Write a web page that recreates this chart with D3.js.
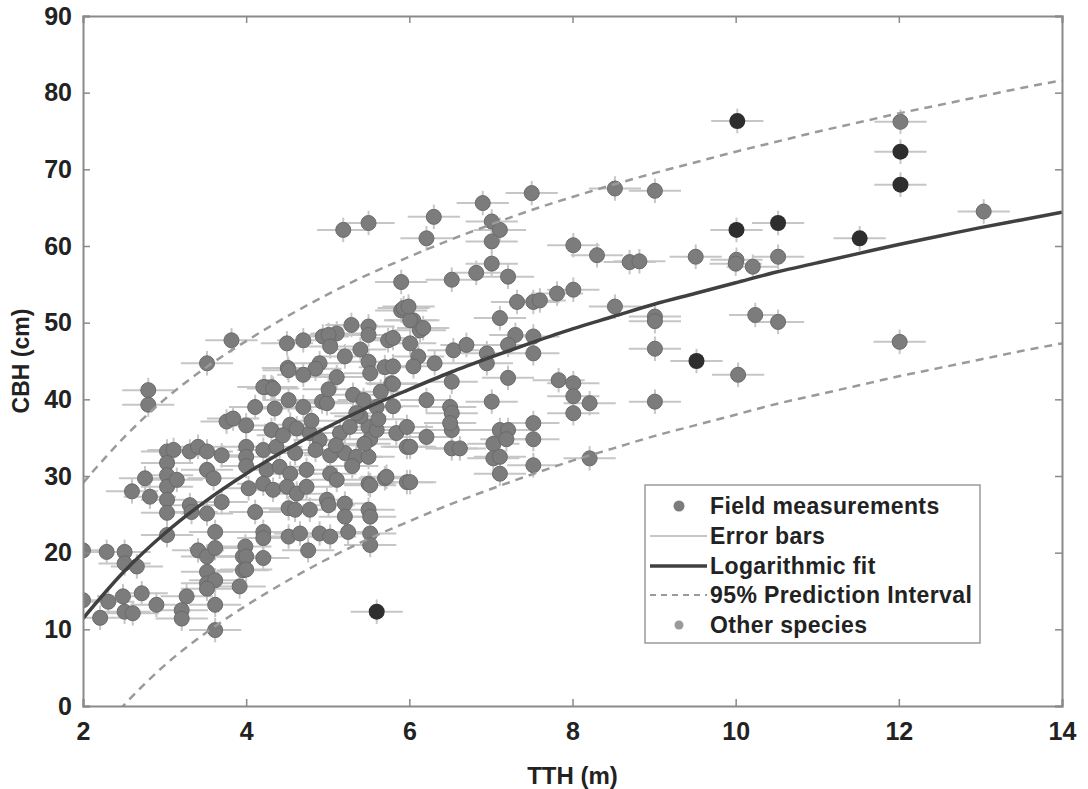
<!DOCTYPE html>
<html>
<head>
<meta charset="utf-8">
<script src="https://cdn.jsdelivr.net/npm/d3@7"></script>
<style>
  body { margin: 0; background: #fff; }
  svg { display: block; }
  .tick text { font-family: "Liberation Sans", Arial, sans-serif; font-weight: bold; fill: #222; }
  .axis-label { font-family: "Liberation Sans", Arial, sans-serif; font-weight: bold; fill: #222; }
  .legend text { font-family: "Liberation Sans", Arial, sans-serif; font-weight: bold; fill: #222; font-size: 23px; letter-spacing: 0.4px; }
</style>
</head>
<body>
<script>
var w = 1088;
var h = 789;
var margin = {left: 83, top: 16, right: 26, bottom: 83};

// field measurements (TTH m, CBH cm)
var fieldTTH = [
  2.0, 2.29, 2.51, 2.51, 2.66, 2.0, 2.21, 2.31, 2.49, 2.51, 2.61, 2.72, 2.9, 2.6, 2.76, 2.82, 2.8, 2.8,
  3.03, 3.11, 3.03, 3.03, 3.03, 3.03, 3.03, 3.15, 3.31, 3.41, 3.52, 3.7, 3.52, 3.6, 3.31, 3.33, 3.52, 3.7,
  3.03, 3.41, 3.52, 3.62, 3.62, 3.52, 3.52, 3.62, 3.52, 3.27, 3.21, 3.21, 3.62, 3.62, 3.96, 3.96, 3.92, 3.99,
  3.52, 3.82, 3.76,
  4.0, 4.11, 4.23, 4.31, 4.5, 4.51, 4.7, 4.94, 5.11, 5.29, 5.5, 5.5, 5.74, 5.9, 5.9, 6.05, 6.13, 5.01, 5.03,
  5.21, 4.9, 4.85, 4.52, 4.7, 5.5, 5.52, 5.7, 5.78, 5.11, 4.52, 4.7, 4.93, 4.99, 5.31, 5.44, 5.6, 3.84, 4.31,
  4.54, 4.62, 4.78, 4.9, 5.15, 5.27, 5.5, 5.52, 5.6, 5.84, 5.97, 5.97, 4.0, 4.0, 4.0, 4.21, 4.37, 4.6, 4.85,
  5.03, 5.21, 5.35, 5.5, 4.25, 4.41, 4.54, 4.74, 5.03, 5.11, 5.5, 5.7, 5.97, 4.03, 4.21, 4.33, 4.5, 4.62,
  4.74, 4.99, 4.11, 4.52, 4.6, 4.78, 5.01, 5.21, 5.5, 4.21, 4.21, 4.0, 4.21, 4.0, 4.52, 4.66, 4.76, 4.9, 5.03,
  5.21, 5.25, 5.52, 5.52, 5.52, 5.52, 5.8, 5.93, 6.01, 6.17, 6.01, 5.8, 5.8, 5.8, 6.11, 6.31, 6.05, 6.21,
  6.5, 5.72, 6.01, 6.01, 6.21,
  4.21, 4.33, 5.01, 5.4, 5.35, 5.62, 5.45, 4.45, 4.8, 5.1, 5.65, 5.4, 4.35, 5.3,
  5.19, 5.5, 6.3, 6.21, 6.9, 7.01, 7.11, 7.01, 7.5, 7.01, 7.21, 6.82, 6.52, 5.99, 7.32, 7.52, 7.6, 7.81,
  8.01, 8.01, 8.3, 7.11, 7.3, 7.52, 7.52, 7.21, 7.83, 8.01, 8.01, 8.21, 8.01, 7.01, 6.52, 6.52, 6.52, 6.52,
  6.62, 7.11, 7.21, 7.03, 7.19, 7.52, 7.52, 7.03, 7.11, 7.52, 7.11, 8.21, 6.54, 6.7, 6.95, 6.95, 7.21, 6.5,
  8.52, 9.01, 8.7, 8.82, 9.51, 10.01, 10.21, 10.52, 13.04, 8.52, 9.01, 9.01, 9.01, 10.03, 10.24, 10.52,
  12.01, 9.01, 12.02, 10.0
];
var fieldCBH = [
  20.3, 20.1, 20.1, 18.6, 18.2, 13.8, 11.5, 13.6, 14.3, 12.3, 12.1, 14.7, 13.2, 28.0, 29.7, 27.3, 41.2, 39.3,
  33.2, 33.4, 31.7, 30.1, 28.6, 26.9, 25.2, 29.5, 33.2, 33.8, 33.2, 32.7, 30.8, 29.7, 26.2, 25.3, 25.1, 26.6,
  22.3, 20.3, 19.5, 20.6, 22.7, 17.5, 16.0, 16.4, 15.3, 14.3, 12.5, 11.4, 13.2, 9.9, 19.5, 17.7, 15.6, 20.8,
  44.7, 47.7, 37.1,
  36.6, 39.0, 41.6, 41.6, 47.3, 44.1, 47.7, 48.2, 48.6, 49.7, 49.5, 48.4, 47.7, 55.3, 51.6, 50.3, 49.0, 48.4, 46.9,
  45.6, 44.7, 44.0, 43.8, 43.2, 44.9, 43.4, 44.2, 42.1, 42.9, 39.9, 39.0, 39.7, 39.5, 40.6, 39.9, 39.0, 37.5, 36.0,
  36.7, 36.2, 35.6, 34.7, 35.6, 36.4, 36.4, 34.8, 36.0, 35.6, 36.4, 33.8, 33.8, 32.5, 31.3, 33.4, 33.8, 33.0, 33.4,
  32.7, 33.0, 32.5, 32.5, 30.8, 31.2, 30.3, 30.8, 30.3, 29.5, 29.0, 29.7, 29.2, 28.4, 29.0, 28.2, 28.6, 27.7,
  28.6, 26.9, 25.3, 25.8, 25.6, 25.6, 26.2, 26.4, 25.6, 22.7, 21.9, 19.5, 19.3, 17.8, 22.1, 22.5, 20.3, 22.5, 22.1,
  24.7, 22.7, 24.7, 22.5, 21.0, 28.8, 48.0, 51.9, 50.3, 49.3, 47.3, 44.3, 42.0, 39.1, 45.6, 44.7, 44.3, 39.9,
  39.0, 29.9, 29.2, 33.8, 35.1,
  41.6, 41.4, 41.3, 37.8, 38.2, 37.4, 34.2, 35.3, 37.2, 34.0, 41.0, 46.5, 38.8, 31.3,
  62.1, 63.0, 63.8, 61.0, 65.6, 63.2, 62.1, 60.6, 66.9, 57.7, 56.0, 56.5, 55.6, 52.1, 52.7, 52.7, 52.9, 53.8,
  54.3, 60.1, 58.8, 50.6, 48.4, 48.2, 46.0, 42.8, 42.5, 42.1, 40.4, 39.5, 38.2, 39.7, 42.3, 38.2, 36.0, 33.6,
  33.6, 36.0, 36.0, 34.2, 34.8, 36.9, 34.8, 32.3, 32.5, 31.4, 30.3, 32.3, 46.4, 47.1, 46.0, 44.7, 47.1, 36.9,
  67.5, 67.2, 57.9, 58.0, 58.6, 58.2, 57.3, 58.6, 64.5, 52.1, 50.8, 50.2, 46.6, 43.2, 51.0, 50.1,
  47.5, 39.7, 76.2, 57.7
];

// other species
var otherTTH = [5.6, 9.52, 10.02, 10.01, 10.52, 11.52, 12.02, 12.02];
var otherCBH = [12.3, 45.0, 76.3, 62.1, 63.0, 61.0, 72.3, 68.0];

// error bar half widths
var tthErr = 0.32;
var cbhErr = 1.6;

// logarithmic fit and 95% prediction interval, read at TTH = 2, 2.5, ... 14
var curveTTH = [2, 2.5, 3, 3.5, 4, 4.5, 5, 5.5, 6, 6.5, 7, 7.5, 8, 8.5, 9, 9.5, 10, 10.5, 11, 11.5, 12, 12.5, 13, 13.5, 14];
var fitCBH = [11.4, 17.5, 22.5, 26.7, 30.3, 33.5, 36.4, 39.0, 41.3, 43.5, 45.5, 47.4, 49.2, 50.8, 52.4, 53.8, 55.2, 56.6, 57.8, 59.0, 60.2, 61.3, 62.4, 63.4, 64.4];
var upperCBH = [29.1, 35.0, 40.0, 44.1, 47.6, 50.8, 53.7, 56.3, 58.6, 60.8, 62.8, 64.7, 66.4, 68.0, 69.5, 70.9, 72.3, 73.6, 74.9, 76.1, 77.3, 78.4, 79.5, 80.6, 81.6];
var lowerCBH = [-6.0, 0.1, 5.3, 9.5, 13.1, 16.3, 19.2, 21.8, 24.1, 26.3, 28.3, 30.2, 32.0, 33.6, 35.2, 36.6, 38.0, 39.4, 40.6, 41.8, 43.0, 44.1, 45.2, 46.3, 47.3];

var xTicks = [2, 4, 6, 8, 10, 12, 14];
var yTicks = [0, 10, 20, 30, 40, 50, 60, 70, 80, 90];

var xScale = d3.scaleLinear()
  .domain([2, 14])
  .range([margin.left, w - margin.right]);

var yScale = d3.scaleLinear()
  .domain([0, 90])
  .range([h - margin.bottom, margin.top]);

var svg = d3.select("body")
  .append("svg")
  .attr("width", w)
  .attr("height", h);

svg.append("clipPath")
  .attr("id", "plot-clip")
  .append("rect")
  .attr("x", margin.left)
  .attr("y", margin.top)
  .attr("width", w - margin.left - margin.right)
  .attr("height", h - margin.top - margin.bottom);

var field = fieldTTH.map(function(d, i) { return [d, fieldCBH[i]]; });
var other = otherTTH.map(function(d, i) { return [d, otherCBH[i]]; });
var all = field.concat(other);

var plot = svg.append("g").attr("clip-path", "url(#plot-clip)");

// error bars
var errs = plot.append("g")
  .attr("stroke", "#c6c6c6")
  .attr("stroke-width", 2);

errs.selectAll("line.h")
  .data(all)
  .enter()
  .append("line")
  .attr("class", "h")
  .attr("x1", function(d) { return xScale(d[0] - tthErr); })
  .attr("x2", function(d) { return xScale(d[0] + tthErr); })
  .attr("y1", function(d) { return yScale(d[1]); })
  .attr("y2", function(d) { return yScale(d[1]); });

errs.selectAll("line.v")
  .data(all)
  .enter()
  .append("line")
  .attr("class", "v")
  .attr("x1", function(d) { return xScale(d[0]); })
  .attr("x2", function(d) { return xScale(d[0]); })
  .attr("y1", function(d) { return yScale(d[1] - cbhErr); })
  .attr("y2", function(d) { return yScale(d[1] + cbhErr); });

// points
plot.selectAll("circle.field")
  .data(field)
  .enter()
  .append("circle")
  .attr("class", "field")
  .attr("cx", function(d) { return xScale(d[0]); })
  .attr("cy", function(d) { return yScale(d[1]); })
  .attr("r", 7.5)
  .attr("fill", "#7c7c7c")
  .attr("stroke", "#6a6a6a")
  .attr("stroke-width", 1);

plot.selectAll("circle.other")
  .data(other)
  .enter()
  .append("circle")
  .attr("class", "other")
  .attr("cx", function(d) { return xScale(d[0]); })
  .attr("cy", function(d) { return yScale(d[1]); })
  .attr("r", 8)
  .attr("fill", "#2e2e2e");

// fit + PI
var line = function(ys) {
  return d3.line()
    .x(function(d, i) { return xScale(curveTTH[i]); })
    .y(function(d) { return yScale(d); })
    .curve(d3.curveMonotoneX)(ys);
};

plot.append("path")
  .attr("d", line(upperCBH))
  .attr("fill", "none")
  .attr("stroke", "#9a9a9a")
  .attr("stroke-width", 2.5)
  .attr("stroke-dasharray", "8,6");

plot.append("path")
  .attr("d", line(lowerCBH))
  .attr("fill", "none")
  .attr("stroke", "#9a9a9a")
  .attr("stroke-width", 2.5)
  .attr("stroke-dasharray", "8,6");

plot.append("path")
  .attr("d", line(fitCBH))
  .attr("fill", "none")
  .attr("stroke", "#404040")
  .attr("stroke-width", 3.5);

// axes
var xAxis = d3.axisBottom(xScale).tickValues(xTicks).tickSize(-7).tickPadding(16).tickFormat(d3.format("d"));
var yAxis = d3.axisLeft(yScale).tickValues(yTicks).tickSize(-7).tickPadding(11);
var xTop = d3.axisTop(xScale).tickValues(xTicks).tickSize(-7).tickFormat("");
var yRight = d3.axisRight(yScale).tickValues(yTicks).tickSize(-7).tickFormat("");

function styleAxis(g) {
  g.select(".domain").attr("stroke", "#8a8a8a").attr("stroke-width", 2);
  g.selectAll(".tick line").attr("stroke", "#8a8a8a").attr("stroke-width", 1.5);
}

svg.append("g")
  .attr("transform", "translate(0," + (h - margin.bottom) + ")")
  .call(xAxis)
  .call(styleAxis)
  .selectAll("text").attr("font-size", 25);

svg.append("g")
  .attr("transform", "translate(" + margin.left + ",0)")
  .call(yAxis)
  .call(styleAxis)
  .selectAll("text").attr("font-size", 25);

svg.append("g")
  .attr("transform", "translate(0," + margin.top + ")")
  .call(xTop)
  .call(styleAxis);

svg.append("g")
  .attr("transform", "translate(" + (w - margin.right) + ",0)")
  .call(yRight)
  .call(styleAxis);

svg.append("text")
  .attr("class", "axis-label")
  .attr("x", (margin.left + w - margin.right) / 2)
  .attr("y", 784)
  .attr("text-anchor", "middle")
  .attr("font-size", 24)
  .text("TTH (m)");

svg.append("text")
  .attr("class", "axis-label")
  .attr("transform", "translate(29," + ((margin.top + h - margin.bottom) / 2) + ") rotate(-90)")
  .attr("text-anchor", "middle")
  .attr("font-size", 23)
  .text("CBH (cm)");

// legend
var legendItems = ["Field measurements", "Error bars", "Logarithmic fit", "95% Prediction Interval", "Other species"];
var legend = svg.append("g").attr("class", "legend");
legend.append("rect")
  .attr("x", 645)
  .attr("y", 485)
  .attr("width", 335)
  .attr("height", 158)
  .attr("fill", "#fff")
  .attr("stroke", "#9a9a9a")
  .attr("stroke-width", 1.5);

var rows = [506, 536, 566, 595, 625];
legendItems.forEach(function(name, i) {
  var y = rows[i];
  if (i === 0) {
    legend.append("circle").attr("cx", 679).attr("cy", y).attr("r", 5.5).attr("fill", "#7c7c7c");
  } else if (i === 1) {
    legend.append("line").attr("x1", 650).attr("x2", 707).attr("y1", y).attr("y2", y)
      .attr("stroke", "#c6c6c6").attr("stroke-width", 2);
  } else if (i === 2) {
    legend.append("line").attr("x1", 650).attr("x2", 707).attr("y1", y).attr("y2", y)
      .attr("stroke", "#404040").attr("stroke-width", 3.5);
  } else if (i === 3) {
    legend.append("line").attr("x1", 650).attr("x2", 707).attr("y1", y).attr("y2", y)
      .attr("stroke", "#9a9a9a").attr("stroke-width", 2).attr("stroke-dasharray", "6,5");
  } else {
    legend.append("circle").attr("cx", 679).attr("cy", y).attr("r", 4.5).attr("fill", "#9a9a9a");
  }
  legend.append("text")
    .attr("x", 710)
    .attr("y", y)
    .attr("dy", "0.35em")
    .text(name);
});
</script>
</body>
</html>
